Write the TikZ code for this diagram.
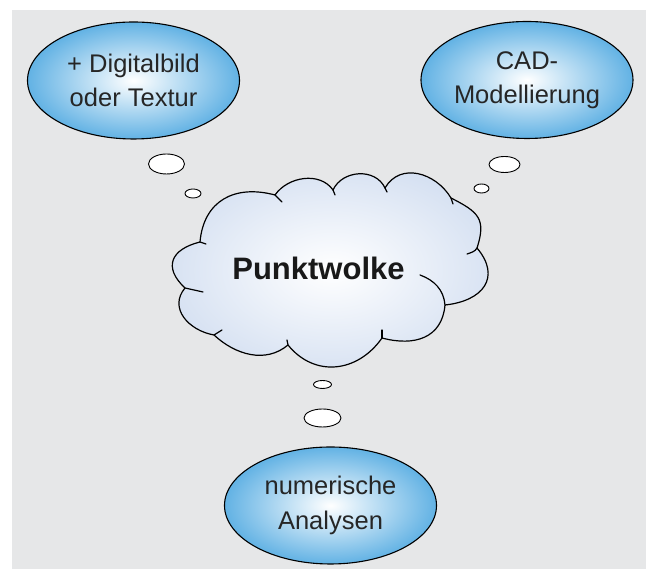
\documentclass[tikz,border=0pt]{standalone}
\usepackage{fontspec}
\setmainfont{Liberation Sans}
\usetikzlibrary{shapes.geometric}
\definecolor{bggray}{RGB}{230,231,232}
\definecolor{ellblue}{RGB}{98,178,228}
\definecolor{cloudblue}{RGB}{214,225,242}
\tikzset{
  bigell/.style={ellipse, draw=black, line width=1.1pt, inner sep=0pt,
    minimum width=212pt, minimum height=117pt, shade, inner color=white, outer color=ellblue,
    align=center, font=\fontsize{25.5}{34.3}\selectfont, text=black!85},
  bubble/.style={ellipse, draw=black, line width=0.9pt, fill=white, inner sep=0pt},
  cloudline/.style={line width=1.2pt, line cap=round, line join=round}
}
\begin{document}
\begin{tikzpicture}[x=1pt,y=1pt]
\useasboundingbox (0,0) rectangle (646,569);
\fill[bggray] (12,0) rectangle (646,559);
% cloud fill
\shade[inner color=white, outer color=cloudblue]
  (200,327) to[out=85,in=165,looseness=1.2] (275,374)
  to[out=55,in=125] (333,379)
  to[out=65,in=115,looseness=1.1] (385,381)
  to[out=60,in=121,looseness=1.15] (451,371)
  to[out=-27,in=72,looseness=1.4] (477,321)
  to[out=-50,in=6,looseness=1.5] (445,264)
  to[out=-95,in=-15,looseness=1.2] (382,231)
  to[out=235,in=309,looseness=1.15] (288,224)
  to[out=220,in=317] (214,234)
  to[out=170,in=230,looseness=1.2] (185,281)
  to[out=137,in=194,looseness=1.6] (200,327) -- cycle;
% cloud outline
\draw[cloudline]
  (200,327) to[out=85,in=165,looseness=1.2] (275,374)
  to[out=55,in=125] (333,379)
  to[out=65,in=115,looseness=1.1] (385,381)
  to[out=60,in=121,looseness=1.15] (451,371)
  to[out=-27,in=72,looseness=1.4] (477,321)
  to[out=-50,in=6,looseness=1.5] (445,264)
  to[out=-95,in=-15,looseness=1.2] (382,231)
  to[out=235,in=309,looseness=1.15] (288,224)
  to[out=220,in=317] (214,234)
  to[out=170,in=230,looseness=1.2] (185,281)
  to[out=137,in=194,looseness=1.6] (200,327);
% cusp ticks
\draw[cloudline] (275,374) -- (282,367);
\draw[cloudline] (333,379) -- (335,374);
\draw[cloudline] (385,381) -- (387,377);
\draw[cloudline] (451,371) -- (453,365);
\draw[cloudline] (477,321) to[out=-120,in=20] (467,315);
\draw[cloudline] (420,294) to[out=-20,in=95] (445,264);
\draw[cloudline] (382,231) -- (382,239);
\draw[cloudline] (288,224) -- (287,229);
\draw[cloudline] (214,234) -- (222,239);
\draw[cloudline] (185,281) -- (203,277);
\draw[cloudline] (200,327) -- (206,325);
% text in cloud
\node[anchor=base, font=\fontsize{31}{36}\selectfont\bfseries, text=black!90] (pw) at (318.5,289) {Punktwolke};
% ellipses
\node[bigell] (dig) at (133.5,488.5) {+ Digitalbild\\oder Textur};
\node[bigell] (cad) at (527,489) {CAD-\\Modellierung};
\node[bigell] (num) at (330.5,63.5) {numerische\\Analysen};
% thought bubbles
\node[bubble, minimum width=36pt, minimum height=20pt] (b1) at (166.5,405) {};
\node[bubble, minimum width=16pt, minimum height=9pt] (b2) at (193,375.5) {};
\node[bubble, minimum width=31pt, minimum height=16pt] (b3) at (504.5,404.5) {};
\node[bubble, minimum width=15pt, minimum height=9pt] (b4) at (481.5,380.5) {};
\node[bubble, minimum width=18pt, minimum height=8pt] (b5) at (322.5,184.5) {};
\node[bubble, minimum width=37pt, minimum height=18pt] (b6) at (322.5,151) {};
\end{tikzpicture}
\end{document}
